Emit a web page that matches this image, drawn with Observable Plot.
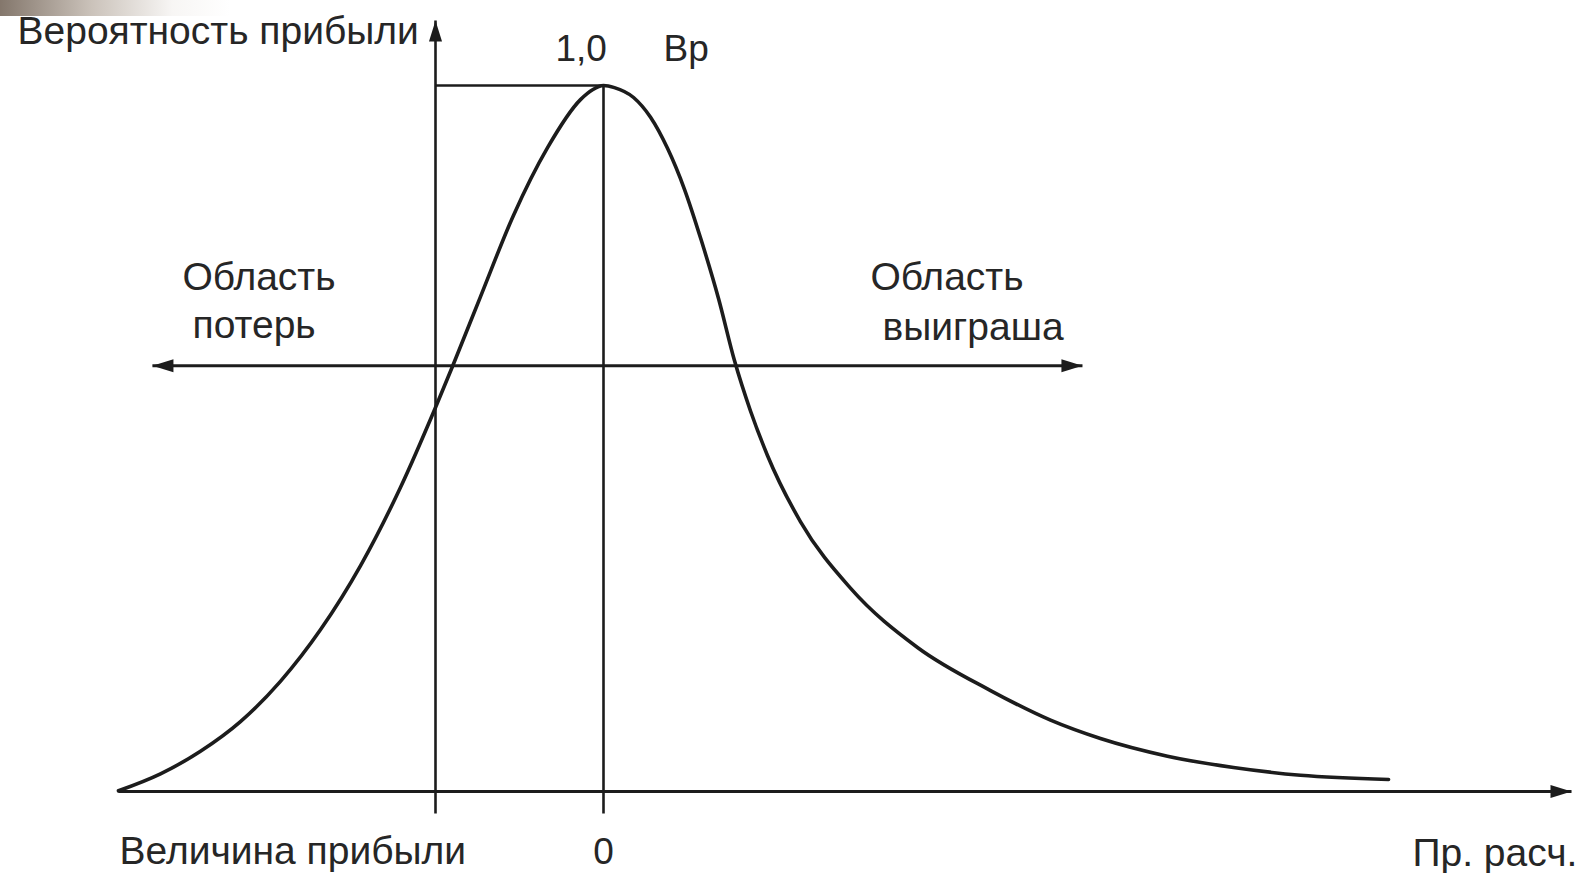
<!DOCTYPE html>
<html>
<head>
<meta charset="utf-8">
<script src="https://cdn.jsdelivr.net/npm/d3@7"></script>
<script src="https://cdn.jsdelivr.net/npm/@observablehq/plot@0.6"></script>
<style>
  html, body { margin: 0; padding: 0; background: #fff; overflow: hidden; }
  #corner { position: absolute; left: 0; top: 0; width: 230px; height: 16px;
    background: linear-gradient(90deg, rgba(110,95,82,0.85) 0%, rgba(160,145,130,0.55) 40%, rgba(230,225,220,0.3) 75%, rgba(255,255,255,0) 100%); }
  #chart { position: absolute; left: 0; top: 0; }
</style>
</head>
<body>
<div id="corner"></div>
<div id="chart"></div>
<script>
// Curve: profit (x, unit = distance from the probability axis to zero) vs probability (y)
const curveX = [-2.887, -2.637, -2.399, -2.161, -1.923, -1.685, -1.446, -1.208, -1.000, -0.899, -0.732, -0.536, -0.333, -0.137, -0.065, 0,
                0.065, 0.179, 0.280, 0.381, 0.482, 0.583, 0.685, 0.780, 0.875, 0.976, 1.173, 1.470, 1.869, 2.304, 2.661, 2.958, 3.357, 3.750, 4.149, 4.673];
const curveY = [0.001, 0.025, 0.057, 0.099, 0.156, 0.229, 0.320, 0.431, 0.544, 0.602, 0.701, 0.816, 0.912, 0.980, 0.994, 1.0,
                0.997, 0.983, 0.955, 0.911, 0.853, 0.780, 0.698, 0.610, 0.539, 0.476, 0.382, 0.288, 0.204, 0.143, 0.101, 0.075, 0.050, 0.034, 0.023, 0.017];

// Axes and guide lines (in data units)
const lineX1 = [-2.887, -1, 0, -1, -2.685];
const lineY1 = [0, -0.031, -0.031, 1, 0.603];
const lineX2 = [5.762, -1, 0, 0, 2.851];
const lineY2 = [0, 1.092, 1, 1, 0.603];
const lineW  = [3, 2.6, 2.6, 2.6, 3];

// Arrow heads
const headX = [-1, 5.762, -2.685, 2.851];
const headY = [1.092, 0, 0.603, 0.603];
const headDir = ["up", "right", "left", "right"];

// Labels
const labelText = ["Вероятность прибыли", "1,0", "Вр", "Область", "потерь", "Область", "выиграша", "Величина прибыли", "0", "Пр. расч."];
const labelX = [-3.488, -0.286, 0.357, -2.506, -2.446, 1.589, 1.661, -2.881, 0, 4.815];
const labelY = [1.059, 1.035, 1.035, 0.710, 0.642, 0.710, 0.639, -0.103, -0.103, -0.105];
const labelAnchor = ["start", "start", "start", "start", "start", "start", "start", "start", "middle", "start"];
const labelSize = [39, 37, 37, 39, 39, 39, 39, 39, 37, 39];

const curve = curveX.map((x, i) => ({x, y: curveY[i]}));
const lines = lineX1.map((x1, i) => ({x1, y1: lineY1[i], x2: lineX2[i], y2: lineY2[i], w: lineW[i]}));
const labels = labelText.map((t, i) => ({t, x: labelX[i], y: labelY[i], a: labelAnchor[i], s: labelSize[i]}));

// Custom narrow triangle symbols with the tip at the origin
const L = 21, H = 6.5;
const symbols = {
  up:    {draw(c) { c.moveTo(0, 0); c.lineTo(H, L); c.lineTo(-H, L); c.closePath(); }},
  right: {draw(c) { c.moveTo(0, 0); c.lineTo(-L, H); c.lineTo(-L, -H); c.closePath(); }},
  left:  {draw(c) { c.moveTo(0, 0); c.lineTo(L, H); c.lineTo(L, -H); c.closePath(); }}
};
const heads = headX.map((x, i) => ({x, y: headY[i], s: symbols[headDir[i]]}));

const ink = "#1c1c1c";
const font = "'Liberation Sans', Arial, Helvetica, sans-serif";

const textMarks = [];
for (const a of ["start", "middle"]) {
  for (const s of [37, 39]) {
    const sub = labels.filter(d => d.a === a && d.s === s);
    if (sub.length) textMarks.push(Plot.text(sub, {
      x: "x", y: "y", text: "t", textAnchor: a, lineAnchor: "bottom",
      fontSize: s, fontFamily: font, fill: "#262626"
    }));
  }
}

const chart = Plot.plot({
  width: 1579,
  height: 873,
  marginTop: 0, marginRight: 0, marginBottom: 0, marginLeft: 0,
  x: {domain: [-603 / 168, 976 / 168], axis: null},
  y: {domain: [-82 / 706, 791 / 706], axis: null},
  style: {fontFamily: font, background: "transparent", overflow: "visible"},
  marks: [
    Plot.link(lines, {x1: "x1", y1: "y1", x2: "x2", y2: "y2", stroke: ink, strokeWidth: d => d.w}),
    Plot.line(curve, {x: "x", y: "y", curve: "monotone-x", stroke: ink, strokeWidth: 3.6}),
    ...heads.map(h => Plot.dot([h], {x: "x", y: "y", symbol: () => h.s, fill: ink, stroke: "none", r: 5})),
    ...textMarks
  ]
});
document.getElementById("chart").appendChild(chart);
</script>
</body>
</html>
